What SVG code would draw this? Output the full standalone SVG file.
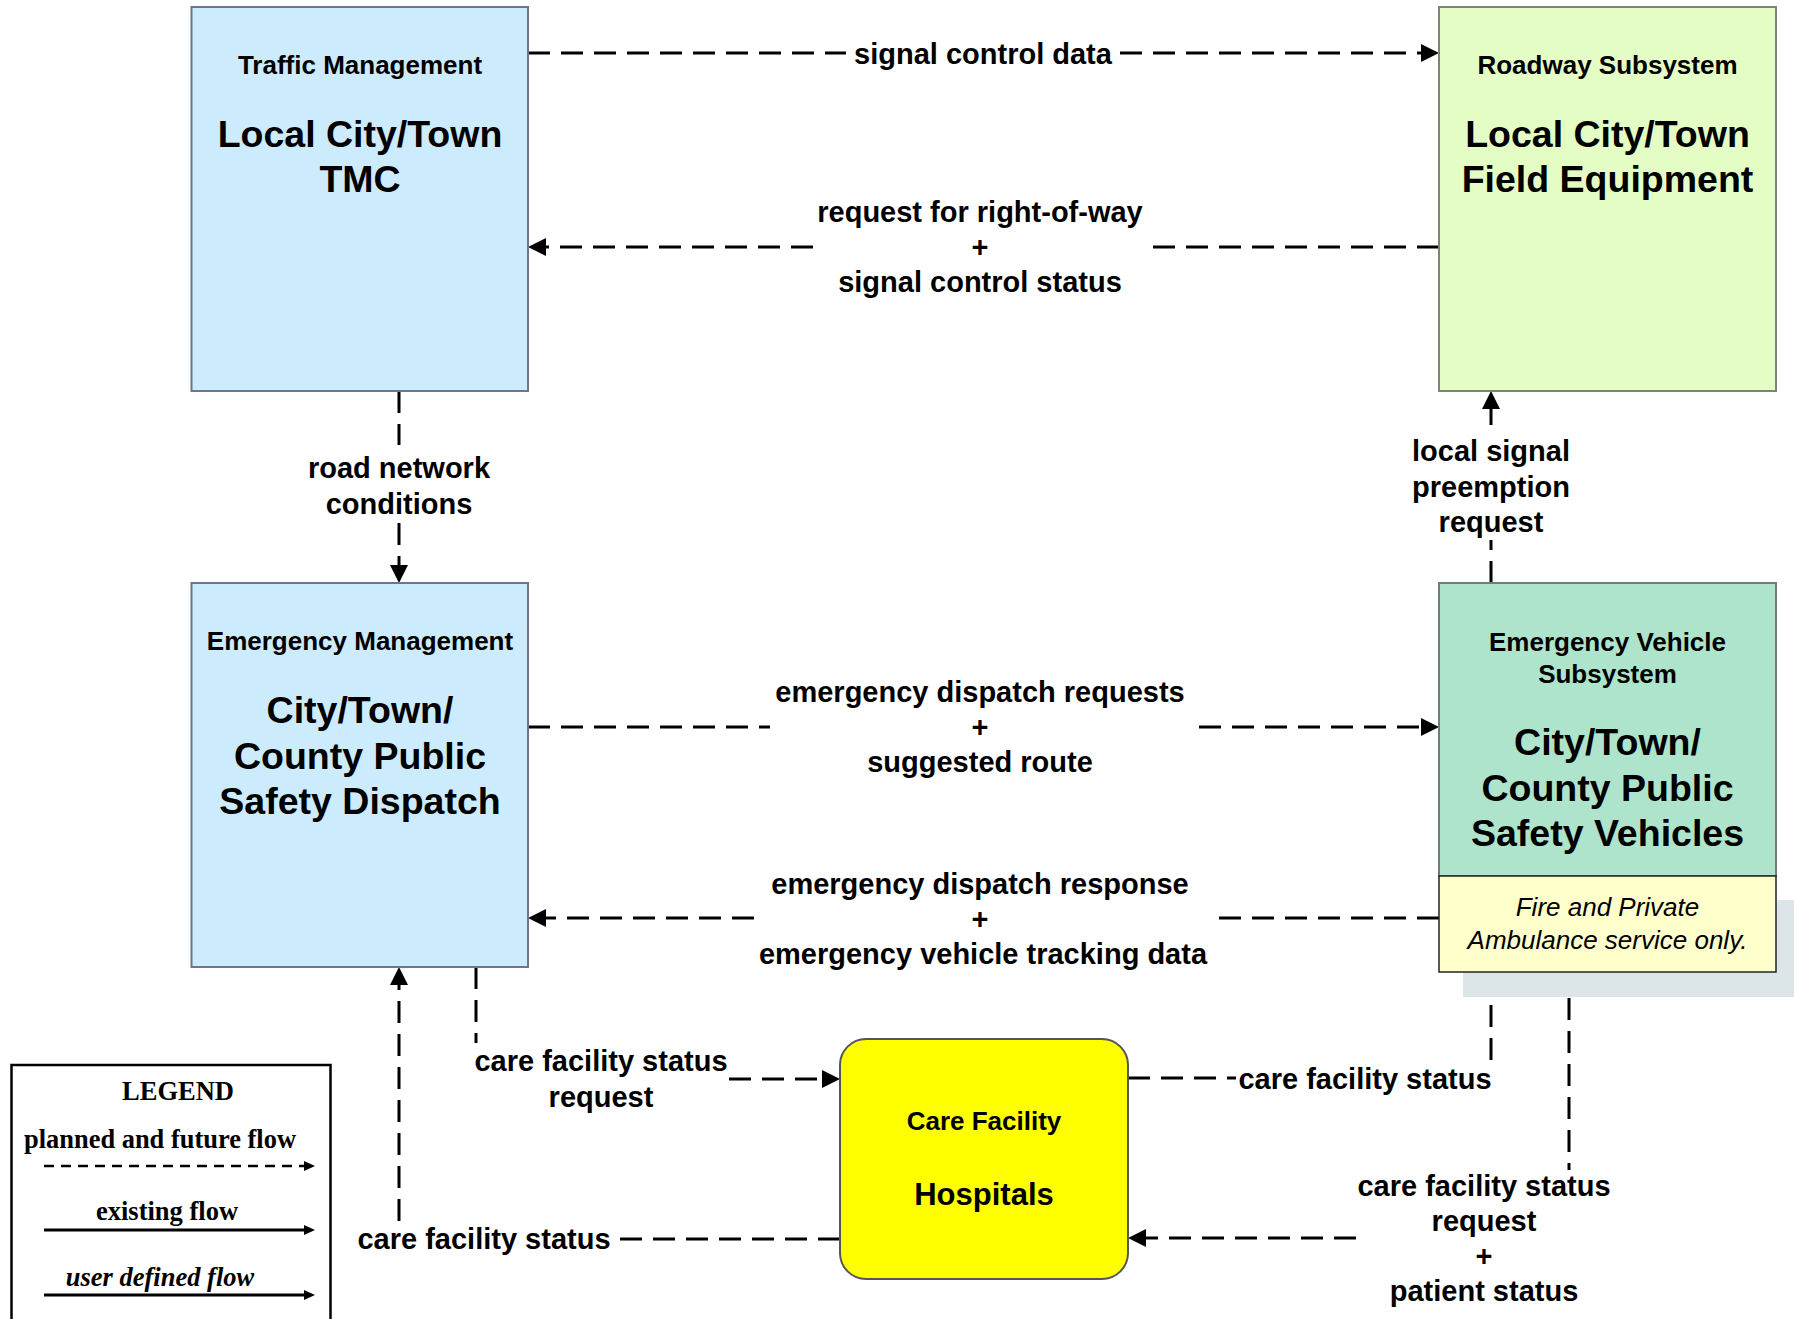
<svg xmlns="http://www.w3.org/2000/svg" width="1794" height="1319" viewBox="0 0 1794 1319">
<style>
.t{font-family:"Liberation Sans",Arial,sans-serif;font-weight:bold;fill:#000;text-anchor:middle}
.sub{font-size:26px}
.big{font-size:37.5px}
.lbl{font-size:29px}
.note{font-family:"Liberation Sans",Arial,sans-serif;font-style:italic;font-size:26px;fill:#000;text-anchor:middle}
.flow{fill:none;stroke:#000;stroke-width:3;stroke-dasharray:22 11}
.solid{fill:none;stroke:#000;stroke-width:3}
.legflow{fill:none;stroke:#000;stroke-width:2.5;stroke-dasharray:10 7}
.leg{font-family:"Liberation Serif","Times New Roman",serif;font-weight:bold;font-size:26.5px;fill:#000;text-anchor:middle}
</style>
<defs>
<marker id="arr" markerUnits="userSpaceOnUse" markerWidth="19" markerHeight="19" refX="0" refY="9" orient="auto">
<path d="M0,0 L18,9 L0,18 z" fill="#000"/>
</marker>
<marker id="arrS" markerUnits="userSpaceOnUse" markerWidth="12" markerHeight="12" refX="0" refY="5" orient="auto">
<path d="M0,0 L11,5 L0,10 z" fill="#000"/>
</marker>
</defs>
<rect width="1794" height="1319" fill="#fff"/>

<g id="connectors">
<!-- signal control data -->
<path class="flow" d="M528,53 H846"/>
<path class="flow" d="M1120,53 H1421" marker-end="url(#arr)"/>
<!-- request for right-of-way + signal control status -->
<path class="flow" d="M1439,247 H1153"/>
<path class="flow" d="M813,247 H546" marker-end="url(#arr)"/>
<!-- road network conditions -->
<path class="flow" d="M399,391 V445"/>
<path class="flow" d="M399,523 V565" marker-end="url(#arr)"/>
<!-- local signal preemption request -->
<path class="flow" d="M1491,583 V540"/>
<path class="flow" d="M1491,425 V409" marker-end="url(#arr)"/>
<!-- emergency dispatch requests + suggested route -->
<path class="flow" d="M528,727 H770"/>
<path class="flow" d="M1199,727 H1421" marker-end="url(#arr)"/>
<!-- emergency dispatch response + emergency vehicle tracking data -->
<path class="flow" d="M1439,918 H1211"/>
<path class="flow" d="M754,918 H546" marker-end="url(#arr)"/>
<!-- care facility status request (EM -> Care) -->
<path class="flow" d="M476,967 V1043"/>
<path class="flow" d="M729,1079 H822" marker-end="url(#arr)"/>
<!-- care facility status (Care -> EM) -->
<path class="flow" d="M840,1239 H618"/>
<path class="flow" d="M399,1221 V985" marker-end="url(#arr)"/>
<!-- care facility status (Care -> EV) -->
<path class="flow" d="M1128,1078 H1236"/>
<path class="flow" d="M1491,1060 V1000"/>
<!-- care facility status request + patient status (EV -> Care) -->
<path class="flow" d="M1569,998 V1170"/>
<path class="flow" d="M1356,1238 H1146" marker-end="url(#arr)"/>

<text class="t lbl" x="983" y="64">signal control data</text>
<text class="t lbl" x="980" y="222">request for right-of-way</text>
<text class="t lbl" x="980" y="257">+</text>
<text class="t lbl" x="980" y="292">signal control status</text>
<text class="t lbl" x="399" y="478">road network</text>
<text class="t lbl" x="399" y="514">conditions</text>
<text class="t lbl" x="1491" y="461">local signal</text>
<text class="t lbl" x="1491" y="497">preemption</text>
<text class="t lbl" x="1491" y="532">request</text>
<text class="t lbl" x="980" y="702">emergency dispatch requests</text>
<text class="t lbl" x="980" y="737">+</text>
<text class="t lbl" x="980" y="772">suggested route</text>
<text class="t lbl" x="980" y="894">emergency dispatch response</text>
<text class="t lbl" x="980" y="929">+</text>
<text class="t lbl" x="983" y="964">emergency vehicle tracking data</text>
<text class="t lbl" x="601" y="1071">care facility status</text>
<text class="t lbl" x="601" y="1107">request</text>
<text class="t lbl" x="484" y="1249">care facility status</text>
<text class="t lbl" x="1365" y="1089">care facility status</text>
<text class="t lbl" x="1484" y="1196">care facility status</text>
<text class="t lbl" x="1484" y="1231">request</text>
<text class="t lbl" x="1484" y="1266">+</text>
<text class="t lbl" x="1484" y="1301">patient status</text>
</g>

<g id="traffic-management">
<rect x="191.5" y="7" width="336.5" height="384" fill="#ccebfc" stroke="#6b7785" stroke-width="2"/>
<text class="t sub" x="360" y="74">Traffic Management</text>
<text class="t big" x="360" y="147">Local City/Town</text>
<text class="t big" x="360" y="192">TMC</text>
</g>

<g id="roadway-subsystem">
<rect x="1439" y="7" width="337" height="384" fill="#e3fdc4" stroke="#7a8575" stroke-width="2"/>
<text class="t sub" x="1607.5" y="74">Roadway Subsystem</text>
<text class="t big" x="1607.5" y="147">Local City/Town</text>
<text class="t big" x="1607.5" y="192">Field Equipment</text>
</g>

<g id="emergency-management">
<rect x="191.5" y="583" width="336.5" height="384" fill="#ccebfc" stroke="#6b7785" stroke-width="2"/>
<text class="t sub" x="360" y="650">Emergency Management</text>
<text class="t big" x="360" y="723">City/Town/</text>
<text class="t big" x="360" y="769">County Public</text>
<text class="t big" x="360" y="814">Safety Dispatch</text>
</g>

<g id="emergency-vehicle">
<rect x="1463" y="900" width="340" height="97" fill="#dce6e8"/>
<rect x="1439" y="583" width="337" height="293" fill="#aee4cb" stroke="#6f7d75" stroke-width="2"/>
<rect x="1439" y="876" width="337" height="96" fill="#ffffcc" stroke="#222" stroke-width="1.5"/>
<text class="t sub" x="1607.5" y="651">Emergency Vehicle</text>
<text class="t sub" x="1607.5" y="683">Subsystem</text>
<text class="t big" x="1607.5" y="755">City/Town/</text>
<text class="t big" x="1607.5" y="801">County Public</text>
<text class="t big" x="1607.5" y="846">Safety Vehicles</text>
<text class="note" x="1607.5" y="916">Fire and Private</text>
<text class="note" x="1607.5" y="949">Ambulance service only.</text>
</g>

<g id="care-facility">
<rect x="840" y="1039" width="288" height="240" rx="26" ry="26" fill="#ffff00" stroke="#555" stroke-width="2"/>
<text class="t sub" x="984" y="1130">Care Facility</text>
<text class="t" x="984" y="1205" font-size="31">Hospitals</text>
</g>

<g id="legend">
<rect x="11.5" y="1065" width="319" height="300" fill="#fff" stroke="#000" stroke-width="2.5"/>
<text class="leg" x="178" y="1100">LEGEND</text>
<text class="leg" x="160" y="1148" textLength="272" lengthAdjust="spacingAndGlyphs">planned and future flow</text>
<path class="legflow" d="M44,1166 H304" marker-end="url(#arrS)"/>
<text class="leg" x="167" y="1220">existing flow</text>
<path class="solid" d="M44,1230 H304" marker-end="url(#arrS)"/>
<text class="leg" x="160" y="1286" font-style="italic">user defined flow</text>
<path class="solid" d="M44,1295 H304" marker-end="url(#arrS)"/>
</g>
</svg>
